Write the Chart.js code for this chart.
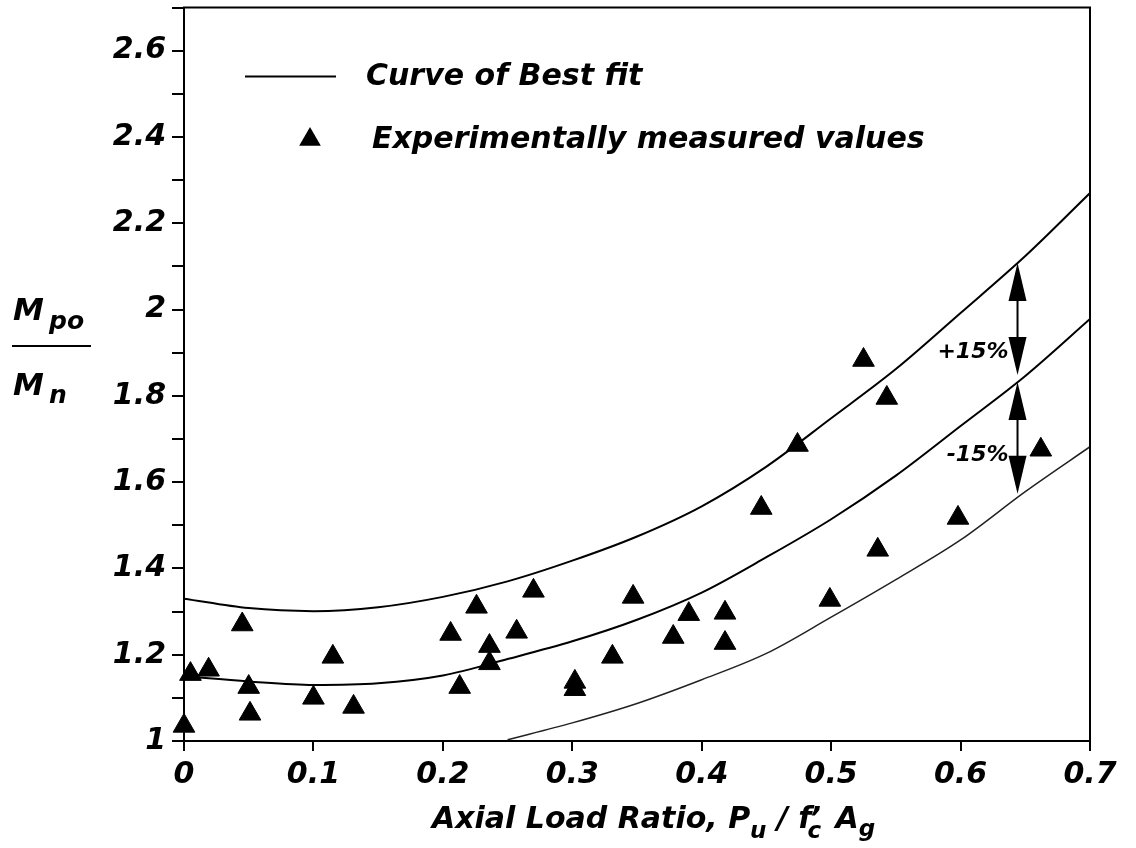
<!DOCTYPE html>
<html>
<head>
<meta charset="utf-8">
<script src="https://cdn.jsdelivr.net/npm/chart.js@4.4.1/dist/chart.umd.min.js"></script>
<style>
  html, body { margin: 0; padding: 0; background: #fff; overflow: hidden; }
  #wrap { width: 1136px; height: 848px; overflow: hidden; }
  #mycanvas { display: block; }
</style>
</head>
<body>
<div id="wrap"><canvas id="mycanvas" width="1136" height="848"></canvas></div>
<script>
// fitted curve and the +/-15% band, sampled along the axial load ratio
var curveX = [0, 0.05, 0.1, 0.15, 0.2, 0.25, 0.3, 0.35, 0.4, 0.45, 0.5, 0.55, 0.6, 0.65, 0.7];
var bestFit = [1.150, 1.138, 1.130, 1.134, 1.152, 1.190, 1.231, 1.281, 1.344, 1.426, 1.514, 1.615, 1.730, 1.846, 1.978];
var upperBand = [1.330, 1.308, 1.301, 1.310, 1.334, 1.370, 1.418, 1.474, 1.544, 1.636, 1.748, 1.862, 1.992, 2.124, 2.270];

// lower band only comes above Mpo/Mn = 1 from about 0.25 on
var lowerX = [0.25, 0.3, 0.35, 0.4, 0.45, 0.5, 0.55, 0.6, 0.65, 0.7];
var lowerBand = [1.003, 1.042, 1.087, 1.142, 1.203, 1.287, 1.374, 1.466, 1.578, 1.682];

// test results
var measuredX = [0, 0.005, 0.019, 0.045, 0.050, 0.051, 0.100, 0.115, 0.131, 0.206, 0.213, 0.226, 0.236, 0.236, 0.257, 0.270,
                 0.302, 0.302, 0.331, 0.347, 0.378, 0.390, 0.418, 0.418, 0.446, 0.474, 0.499, 0.525, 0.536, 0.543, 0.598, 0.662];
var measuredY = [1.035, 1.155, 1.165, 1.270, 1.125, 1.063, 1.100, 1.195, 1.079, 1.248, 1.125, 1.311, 1.220, 1.180, 1.253, 1.348,
                 1.137, 1.120, 1.195, 1.334, 1.241, 1.294, 1.297, 1.227, 1.540, 1.686, 1.327, 1.883, 1.443, 1.795, 1.517, 1.675];

// axis ranges (y ticks every 0.1, labels every 0.2)
var xRange = [0, 0.7];
var yRange = [1, 2.7];

// double arrows marking the band width
var bandX = 0.644;
var bandArrows = [[2.108, 1.848], [1.832, 1.573]];
var bandLabels = ['+15%', '-15%'];
var bandLabelY = [1.90, 1.663];

var FONT = '"DejaVu Sans"';
Chart.defaults.font.family = FONT;
Chart.defaults.color = '#000';

function toPoints(xs, ys) {
    var pts = [];
    for (var i in xs) {
        pts.push({ x: xs[i], y: ys[i] });
    }
    return pts;
}

function label(v) {
    return String(Math.round(v * 10) / 10);
}

function arrowHead(ctx, x, tipY, dir) {
    // dir = -1 points up, +1 points down
    var len = 38, half = 9;
    ctx.beginPath();
    ctx.moveTo(x, tipY);
    ctx.lineTo(x - half, tipY - dir * len);
    ctx.lineTo(x + half, tipY - dir * len);
    ctx.closePath();
    ctx.fill();
}

var decorations = {
    id: 'decorations',
    afterDatasetsDraw: function(chart) {
        var ctx = chart.ctx;
        var a = chart.chartArea;
        var xs = chart.scales.x, ys = chart.scales.y;
        ctx.save();
        ctx.strokeStyle = '#000';
        ctx.fillStyle = '#000';

        // top and right sides of the frame
        ctx.lineWidth = 2;
        ctx.beginPath();
        ctx.moveTo(a.left - 1, a.top);
        ctx.lineTo(a.right, a.top);
        ctx.lineTo(a.right, a.bottom);
        ctx.stroke();

        // legend
        ctx.beginPath();
        ctx.moveTo(a.left + 61, a.top + 69);
        ctx.lineTo(a.left + 152, a.top + 69);
        ctx.stroke();
        var tx = a.left + 126, ty = a.top + 132, r = 12.5;
        ctx.beginPath();
        ctx.moveTo(tx, ty - r);
        ctx.lineTo(tx + r * 0.866, ty + r / 2);
        ctx.lineTo(tx - r * 0.866, ty + r / 2);
        ctx.closePath();
        ctx.fill();
        ctx.font = 'italic bold 30px ' + FONT;
        ctx.textBaseline = 'middle';
        ctx.textAlign = 'left';
        ctx.fillText('Curve of Best fit', a.left + 182, a.top + 70);
        ctx.fillText('Experimentally measured values', a.left + 188, a.top + 133);

        // band arrows
        var px = xs.getPixelForValue(bandX);
        ctx.lineWidth = 2;
        for (var i = 0; i < bandArrows.length; i++) {
            var y1 = ys.getPixelForValue(bandArrows[i][0]);
            var y2 = ys.getPixelForValue(bandArrows[i][1]);
            ctx.beginPath();
            ctx.moveTo(px, y1 + 30);
            ctx.lineTo(px, y2 - 30);
            ctx.stroke();
            arrowHead(ctx, px, y1, -1);
            arrowHead(ctx, px, y2, 1);
            ctx.font = 'italic bold 22px ' + FONT;
            ctx.textAlign = 'right';
            ctx.fillText(bandLabels[i], px - 9, ys.getPixelForValue(bandLabelY[i]));
        }

        // titles are placed from the plot bottom so they follow the axis
        var b = a.bottom;

        // y axis title: Mpo / Mn
        ctx.textAlign = 'left';
        ctx.textBaseline = 'alphabetic';
        ctx.font = 'italic bold 31px ' + FONT;
        ctx.fillText('M', 13, b - 421);
        ctx.fillText('M', 13, b - 346);
        ctx.font = 'italic bold 25px ' + FONT;
        ctx.fillText('po', 49, b - 412);
        ctx.fillText('n', 49, b - 338);
        ctx.beginPath();
        ctx.moveTo(12, b - 395);
        ctx.lineTo(91, b - 395);
        ctx.stroke();

        // x axis title with subscripts
        var big = 'italic bold 30px ' + FONT;
        var small = 'italic bold 23px ' + FONT;
        var x = 432, base = b + 87, sub = base + 10;
        ctx.font = big;
        ctx.fillText('Axial Load Ratio, P', x, base);
        x += ctx.measureText('Axial Load Ratio, P').width;
        ctx.font = small;
        ctx.fillText('u', x, sub);
        x += ctx.measureText('u').width;
        ctx.font = big;
        ctx.fillText(' / f', x, base);
        x += ctx.measureText(' / f').width;
        ctx.fillText('\u2019', x - 2, base);
        ctx.font = small;
        ctx.fillText('c', x - 4, sub);
        x += ctx.measureText('c').width;
        ctx.font = big;
        ctx.fillText(' A', x, base);
        x += ctx.measureText(' A').width;
        ctx.font = small;
        ctx.fillText('g', x, sub - 2);

        ctx.restore();
    }
};

function makeConfig() {
    return {
        type: 'scatter',
        data: {
            datasets: [
                {
                    label: 'Curve of Best fit',
                    data: toPoints(curveX, bestFit),
                    showLine: true,
                    borderColor: '#000',
                    borderWidth: 2,
                    pointRadius: 0,
                    cubicInterpolationMode: 'monotone'
                },
                {
                    label: '+15%',
                    data: toPoints(curveX, upperBand),
                    showLine: true,
                    borderColor: '#000',
                    borderWidth: 2,
                    pointRadius: 0,
                    cubicInterpolationMode: 'monotone'
                },
                {
                    label: '-15%',
                    data: toPoints(lowerX, lowerBand),
                    showLine: true,
                    borderColor: '#222',
                    borderWidth: 1.5,
                    pointRadius: 0,
                    cubicInterpolationMode: 'monotone'
                },
                {
                    label: 'Experimentally measured values',
                    data: toPoints(measuredX, measuredY),
                    pointStyle: 'triangle',
                    pointRadius: 12.5,
                    pointBackgroundColor: '#000',
                    pointBorderColor: '#000',
                    pointBorderWidth: 1,
                    clip: false
                }
            ]
        },
        options: {
            responsive: false,
            maintainAspectRatio: false,
            animation: false,
            events: [],
            layout: { padding: { left: 0, top: 8, right: 46, bottom: 0 } },
            plugins: {
                legend: { display: false },
                tooltip: { enabled: false }
            },
            scales: {
                x: {
                    type: 'linear',
                    min: xRange[0],
                    max: xRange[1],
                    afterFit: function(s) { s.height = 107; s.paddingLeft = 0; s.paddingRight = 0; },
                    border: { color: '#000', width: 2 },
                    grid: { drawOnChartArea: false, drawTicks: true, tickLength: 10, color: '#000', lineWidth: 2 },
                    ticks: {
                        stepSize: 0.1,
                        autoSkip: false,
                        maxRotation: 0,
                        padding: 6,
                        font: { size: 30, style: 'italic', weight: 'bold' },
                        callback: function(v) { return label(v); }
                    }
                },
                y: {
                    type: 'linear',
                    min: yRange[0],
                    max: yRange[1],
                    afterFit: function(s) { s.width = 184; s.paddingTop = 0; s.paddingBottom = 0; },
                    border: { color: '#000', width: 2 },
                    grid: { drawOnChartArea: false, drawTicks: true, tickLength: 12, color: '#000', lineWidth: 2 },
                    ticks: {
                        stepSize: 0.1,
                        autoSkip: false,
                        padding: 6,
                        font: { size: 30, style: 'italic', weight: 'bold' },
                        callback: function(v) {
                            var t = Math.round(v * 10);
                            return (t % 2 === 0 && t < 27) ? label(v) : '';
                        }
                    }
                }
            }
        },
        plugins: [decorations]
    };
}

var canvas = document.getElementById('mycanvas');
var chart = new Chart(canvas, makeConfig());

// the layout keeps some room above the plot for the top tick label;
// rebuild on a taller canvas slid up by that much so the frame sits at y = 8
var extra = Math.round(chart.chartArea.top - 8);
if (extra > 0) {
    chart.destroy();
    canvas.width = 1136;
    canvas.height = 848 + extra;
    canvas.style.marginTop = (-extra) + 'px';
    chart = new Chart(canvas, makeConfig());
}
</script>
</body>
</html>
